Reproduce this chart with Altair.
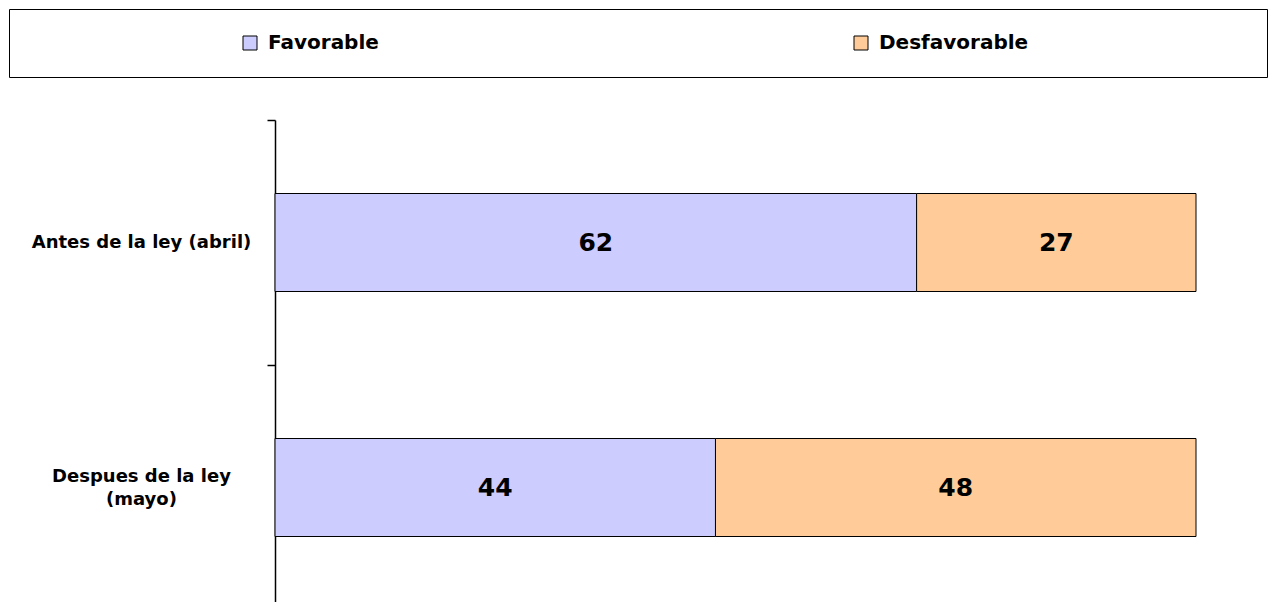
import altair as alt
import pandas as pd

# ---- data ----
periods = ["Antes de la ley (abril)", "Despues de la ley\n(mayo)"]
series = ["Favorable", "Desfavorable"]
favorable = [62, 44]
desfavorable = [27, 48]
colors = ["#CCCCFF", "#FFCC99"]

rows = []
for i, p in enumerate(periods):
    rows.append({"period": p, "series": series[0], "order": 0, "value": favorable[i]})
    rows.append({"period": p, "series": series[1], "order": 1, "value": desfavorable[i]})
df = pd.DataFrame(rows)

FONT = "DejaVu Sans"

base = alt.Chart(df).transform_stack(
    stack="value",
    groupby=["period"],
    as_=["x0", "x1"],
    offset="normalize",
    sort=[alt.SortField("order", order="ascending")],
).transform_calculate(mid="(datum.x0 + datum.x1) / 2")

y_axis = alt.Axis(
    tickBand="extent",
    domainColor="black",
    domainWidth=1.5,
    tickColor="black",
    tickWidth=1.5,
    tickSize=8,
    labelFont=FONT,
    labelFontSize=18,
    labelFontWeight="bold",
    labelColor="black",
    labelAlign="center",
    labelPadding=126,
    labelExpr="split(datum.label, '\\n')",
    labelLineHeight=23,
    labelBaseline="middle",
    labelOffset={"condition": {"test": "indexof(datum.label, '\\n') >= 0", "value": -11.5}, "value": 0},
    labelLimit=400,
    grid=False,
    title=None,
)

y = alt.Y(
    "period:N",
    sort=periods,
    title=None,
    scale=alt.Scale(range=[0, 490], paddingInner=0, paddingOuter=0),
    axis=y_axis,
)

legend = alt.Legend(
    title="\u00a0",
    titleOrient="right",
    titlePadding=215,
    titleFontSize=1,
    orient="none",
    legendX=-266,
    legendY=-111,
    direction="horizontal",
    columns=2,
    columnPadding=265,
    padding=24,
    strokeColor="black",
    fillColor="white",
    symbolType="square",
    symbolSize=196,
    symbolStrokeColor="black",
    symbolStrokeWidth=1,
    symbolOpacity=1,
    symbolOffset=207,
    labelOffset=8,
    labelFont=FONT,
    labelFontSize=20,
    labelFontWeight="bold",
    labelColor="black",
    labelLimit=400,
)

bars = base.mark_bar(stroke="black", strokeWidth=1, size=98).encode(
    y=y,
    x=alt.X("x0:Q", scale=alt.Scale(domain=[0, 1]), axis=None),
    x2="x1:Q",
    color=alt.Color("series:N", scale=alt.Scale(domain=series, range=colors), legend=legend),
)

texts = base.mark_text(font=FONT, fontSize=25, fontWeight="bold", color="black").encode(
    y=alt.Y("period:N", sort=periods),
    x=alt.X("mid:Q"),
    text="value:Q",
)

chart = (
    alt.layer(bars, texts)
    .properties(
        width=921,
        height=482,
        padding={"left": 267, "top": 112, "right": 79, "bottom": 0},
        autosize=alt.AutoSizeParams(type="none"),
        background="white",
    )
    .configure_view(strokeWidth=0)
)

chart.save("out.html", embed_options={"renderer": "svg", "actions": False})
